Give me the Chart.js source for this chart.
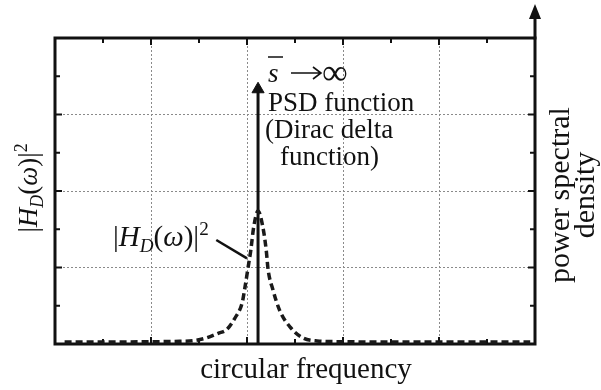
<!DOCTYPE html>
<html>
<head>
<meta charset="utf-8">
<script src="https://cdn.jsdelivr.net/npm/chart.js@4.4.0/dist/chart.umd.min.js"></script>
<style>
  html, body { margin: 0; padding: 0; background: #fff; }
  #wrap { width: 601px; height: 390px; }
</style>
</head>
<body>
<div id="wrap"><canvas id="psd" width="601" height="390"></canvas></div>
<script>
// |H_D(w)|^2 curve (x: 0..5 grid units, y: 0..4 grid units)
const curveX = [0.1, 0.5, 1.0, 1.3, 1.45, 1.58, 1.7, 1.79, 1.875, 1.95, 1.98, 2.01, 2.04, 2.07, 2.115, 2.165, 2.2, 2.22, 2.27, 2.34, 2.45, 2.58, 2.73, 3.0, 3.5, 4.0, 4.5, 4.95];
const curveY = [0.025, 0.025, 0.03, 0.035, 0.045, 0.08, 0.14, 0.19, 0.34, 0.54, 0.75, 0.99, 1.23, 1.53, 1.74, 1.53, 1.23, 0.97, 0.71, 0.44, 0.22, 0.08, 0.04, 0.03, 0.025, 0.025, 0.025, 0.025];

// Dirac delta spike (s -> infinity)
const deltaX = [2.115, 2.115];
const deltaY = [0, 3.33];

// leader line from the |H_D(w)|^2 label to the curve
const leaderX = [1.68, 2.0];
const leaderY = [1.36, 1.12];

const xMax = 5;
const yMax = 4;

const serif = '"Liberation Serif", "DejaVu Serif", serif';

function pts(xs, ys) {
    return xs.map((x, i) => ({ x: x, y: ys[i] }));
}

// draw a run of text pieces one after another
function drawRuns(ctx, runs, x, y, size) {
    let cx = x;
    runs.forEach(r => {
        const fs = r.small ? size * 0.66 : size;
        ctx.font = (r.italic ? 'italic ' : '') + fs + 'px ' + serif;
        let dy = 0;
        if (r.sub) dy = size * 0.22;
        if (r.sup) dy = -size * 0.38;
        ctx.fillText(r.t, cx, y + dy);
        cx += ctx.measureText(r.t).width + (r.gap || 0);
    });
    return cx - x;
}

function runsWidth(ctx, runs, size) {
    let w = 0;
    runs.forEach(r => {
        const fs = r.small ? size * 0.66 : size;
        ctx.font = (r.italic ? 'italic ' : '') + fs + 'px ' + serif;
        w += ctx.measureText(r.t).width + (r.gap || 0);
    });
    return w;
}

const hdRuns = [
    { t: '|' },
    { t: 'H', italic: true },
    { t: 'D', italic: true, small: true, sub: true },
    { t: '(' },
    { t: 'ω', italic: true },
    { t: ')|' },
    { t: '2', small: true, sup: true }
];

const framePlugin = {
    id: 'frame',
    beforeDatasetsDraw(chart) {
        const ctx = chart.ctx;
        const a = chart.chartArea;
        const xs = chart.scales.x;
        const ys = chart.scales.y;
        ctx.save();
        ctx.strokeStyle = '#111';
        ctx.lineCap = 'square';

        // inward ticks every half unit
        ctx.lineWidth = 2;
        for (let v = 0.5; v < xMax; v += 0.5) {
            const px = xs.getPixelForValue(v);
            const len = (v % 1 === 0) ? 6 : 4;
            ctx.beginPath();
            ctx.moveTo(px, a.bottom); ctx.lineTo(px, a.bottom - len);
            ctx.moveTo(px, a.top); ctx.lineTo(px, a.top + len);
            ctx.stroke();
        }
        for (let v = 0.5; v < yMax; v += 0.5) {
            const py = ys.getPixelForValue(v);
            const len = (v % 1 === 0) ? 6 : 4;
            ctx.beginPath();
            ctx.moveTo(a.left, py); ctx.lineTo(a.left + len, py);
            ctx.moveTo(a.right, py); ctx.lineTo(a.right - len, py);
            ctx.stroke();
        }

        // frame
        ctx.lineWidth = 3;
        ctx.strokeRect(a.left, a.top, a.right - a.left, a.bottom - a.top);

        // right axis keeps going up with an arrow
        ctx.beginPath();
        ctx.moveTo(a.right, a.top);
        ctx.lineTo(a.right, 16);
        ctx.stroke();
        ctx.fillStyle = '#111';
        ctx.beginPath();
        ctx.moveTo(a.right, 4);
        ctx.lineTo(a.right - 6, 19);
        ctx.lineTo(a.right + 6, 19);
        ctx.closePath();
        ctx.fill();
        ctx.restore();
    },
    afterDraw(chart) {
        const ctx = chart.ctx;
        const size = 27;
        ctx.save();
        ctx.fillStyle = '#111';
        ctx.strokeStyle = '#111';
        ctx.textBaseline = 'alphabetic';

        // s-bar -> infinity
        ctx.font = 'italic ' + size + 'px ' + serif;
        ctx.fillText('s', 268, 82);
        ctx.lineWidth = 1.5;
        ctx.beginPath();
        ctx.moveTo(268, 57); ctx.lineTo(283, 57);
        ctx.stroke();
        // long arrow
        ctx.lineWidth = 1.6;
        ctx.beginPath();
        ctx.moveTo(291, 73); ctx.lineTo(320, 73);
        ctx.moveTo(313, 67); ctx.lineTo(321, 73); ctx.lineTo(313, 79);
        ctx.stroke();
        ctx.font = '36px ' + serif;
        ctx.fillText('∞', 322, 84);

        // PSD function text block
        ctx.font = size + 'px ' + serif;
        ctx.fillText('PSD function', 268, 111);
        ctx.fillText('(Dirac delta', 265, 138);
        ctx.fillText('function)', 280, 165);

        // |H_D(w)|^2 label inside plot
        drawRuns(ctx, hdRuns, 113, 246, 29);

        // x axis title
        ctx.font = '29px ' + serif;
        ctx.textAlign = 'center';
        ctx.fillText('circular frequency', 306, 378);

        // right axis title, two lines, rotated
        ctx.save();
        ctx.translate(569, 195);
        ctx.rotate(-Math.PI / 2);
        ctx.font = '30px ' + serif;
        ctx.fillText('power spectral', 0, 0);
        ctx.fillText('density', 0, 25);
        ctx.restore();

        // left axis title, rotated
        ctx.save();
        ctx.translate(37, 188);
        ctx.rotate(-Math.PI / 2);
        ctx.textAlign = 'left';
        const w = runsWidth(ctx, hdRuns, size);
        drawRuns(ctx, hdRuns, -w / 2, 0, size);
        ctx.restore();

        ctx.restore();
    }
};

new Chart(document.getElementById('psd'), {
    type: 'scatter',
    data: {
        datasets: [
            {
                label: '|H_D(ω)|²',
                data: pts(curveX, curveY),
                showLine: true,
                borderColor: '#1a1a1a',
                borderWidth: 3.5,
                borderDash: [7, 4],
                cubicInterpolationMode: 'monotone',
                pointRadius: 0,
                fill: false
            },
            {
                label: 'PSD function (Dirac delta function)',
                data: pts(deltaX, deltaY),
                showLine: true,
                borderColor: '#111',
                borderWidth: 3,
                pointStyle: 'triangle',
                pointRadius: [0, 7],
                pointBackgroundColor: '#111',
                pointBorderColor: '#111',
                pointBorderWidth: 1
            },
            {
                label: 'leader',
                data: pts(leaderX, leaderY),
                showLine: true,
                borderColor: '#111',
                borderWidth: 2.5,
                pointRadius: 0
            }
        ]
    },
    options: {
        responsive: false,
        animation: false,
        events: [],
        layout: { padding: { left: 55, top: 38, right: 66, bottom: 46 } },
        plugins: {
            legend: { display: false },
            tooltip: { enabled: false },
            title: { display: false }
        },
        scales: {
            x: {
                type: 'linear',
                min: 0,
                max: xMax,
                ticks: { display: false, stepSize: 1 },
                grid: { color: '#8a8a8a', lineWidth: 1, drawTicks: false },
                border: { display: false, dash: [2, 2] }
            },
            y: {
                type: 'linear',
                min: 0,
                max: yMax,
                ticks: { display: false, stepSize: 1 },
                grid: { color: '#8a8a8a', lineWidth: 1, drawTicks: false },
                border: { display: false, dash: [2, 2] }
            }
        }
    },
    plugins: [framePlugin]
});
</script>
</body>
</html>
